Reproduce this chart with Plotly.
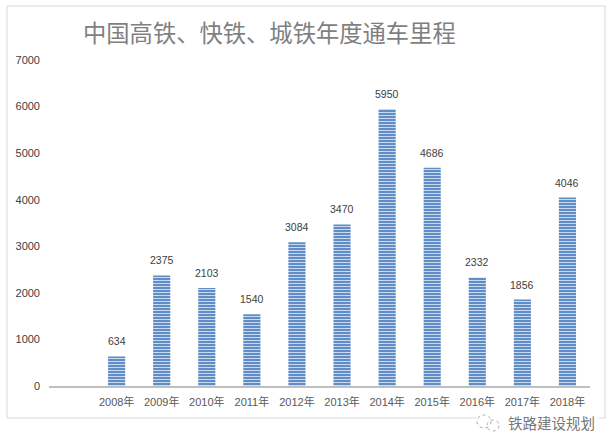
import plotly.graph_objects as go

categories = [" ", "2008年", "2009年", "2010年", "2011年", "2012年", "2013年",
              "2014年", "2015年", "2016年", "2017年", "2018年"]
values = [None, 634, 2375, 2103, 1540, 3084, 3470, 5950, 4686, 2332, 1856, 4046]
tick_values = [0, 1000, 2000, 3000, 4000, 5000, 6000, 7000]

W, H = 614, 448
L, R, T, B = 49, 590, 60, 386
FONT = "Liberation Sans, Noto Sans CJK SC, sans-serif"

fig = go.Figure(go.Bar(
    x=categories, y=values,
    width=0.38,
    marker=dict(
        color="#5b8bc8",
        line=dict(width=0),
        pattern=dict(shape="-", bgcolor="#5585c4", fgcolor="#c9daee",
                     size=3, solidity=0.4, fillmode="replace"),
    ),
    hoverinfo="skip",
))

value_labels = [
    dict(text=str(v), x=c, y=v, xref="x", yref="y", yshift=7, xanchor="center",
         yanchor="bottom", showarrow=False,
         font=dict(size=10.5, color="#404040", family=FONT))
    for c, v in zip(categories, values) if v is not None
]

fig.update_layout(
    width=W, height=H, autosize=False,
    margin=dict(l=L, r=W - R, t=T, b=H - B, pad=0),
    paper_bgcolor="white", plot_bgcolor="white",
    showlegend=False, bargap=0.6,
    font=dict(family=FONT),
    xaxis=dict(
        type="category", categoryorder="array", categoryarray=categories,
        range=[-0.5, 11.5], showgrid=False, showline=True, linecolor="#bfbfbf",
        linewidth=2, ticks="", tickfont=dict(size=11, color="#595959"), ticklabelstandoff=5,
        zeroline=False,
    ),
    yaxis=dict(
        range=[0, 7000], tickvals=tick_values, showgrid=False, showline=False,
        zeroline=False, ticks="", tickfont=dict(size=11, color="#404040"),
        ticklabelstandoff=8,
    ),
    annotations=value_labels + [
        dict(text="中国高铁、快铁、城铁年度通车里程", xref="paper", yref="paper",
             x=(81 - L) / (R - L), y=(386 - 32) / (B - T),
             xanchor="left", yanchor="middle", showarrow=False,
             font=dict(size=23.3, color="#7f7f7f", family="Noto Sans CJK SC")),
        dict(text="铁路建设规划", xref="paper", yref="paper",
             x=(506 - L) / (R - L), y=(386 - 422) / (B - T),
             xanchor="left", yanchor="middle", showarrow=False,
             font=dict(size=14.5, color="#777777", family="Noto Sans CJK SC")),
    ],
    shapes=[
        dict(type="rect", xref="paper", yref="paper",
             x0=(7 - L) / (R - L), x1=(605 - L) / (R - L),
             y0=(386 - 418) / (B - T), y1=(386 - 6) / (B - T),
             line=dict(color="#d9d9d9", width=1), layer="below"),
        dict(type="rect", xref="paper", yref="paper",
             x0=(476 - L) / (R - L), x1=(599 - L) / (R - L),
             y0=(386 - 432) / (B - T), y1=(386 - 412) / (B - T),
             fillcolor="white", line=dict(width=0), layer="below"),
        dict(type="circle", xref="paper", yref="paper",
             x0=(477 - L) / (R - L), x1=(491 - L) / (R - L),
             y0=(386 - 428) / (B - T), y1=(386 - 415) / (B - T),
             line=dict(color="#aaaaaa", width=1, dash="dot")),
        dict(type="circle", xref="paper", yref="paper",
             x0=(487 - L) / (R - L), x1=(499 - L) / (R - L),
             y0=(386 - 431) / (B - T), y1=(386 - 420) / (B - T),
             line=dict(color="#aaaaaa", width=1, dash="dot")),
    ],
)

fig.write_html("out.html", config=dict(displayModeBar=False),
               post_script="document.body.style.margin='0';document.body.style.overflow='hidden';")
